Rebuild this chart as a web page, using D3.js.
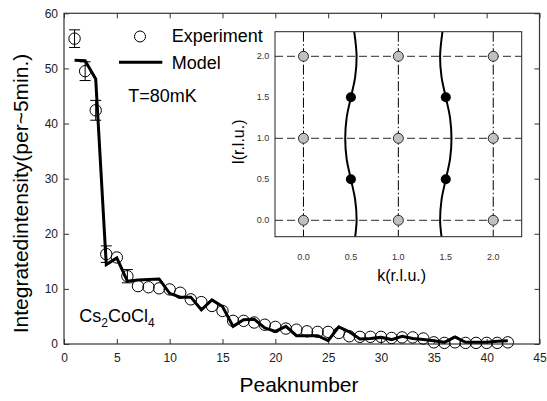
<!DOCTYPE html>
<html>
<head>
<meta charset="utf-8">
<script src="https://cdn.jsdelivr.net/npm/d3@7"></script>
<style>
  html, body { margin: 0; padding: 0; background: #fff; }
  svg { display: block; font-family: "Liberation Sans", Arial, Helvetica, sans-serif; }
</style>
</head>
<body>
<svg id="chart" width="547" height="401"></svg>
<script>
// ---------------- data ----------------
const peaks = d3.range(1, 43);
const experiment = [55.4, 49.5, 42.4, 16.3, 15.7, 12.3, 10.5, 10.3, 10.1, 9.9,
  9.3, 8.1, 7.6, 6.9, 6.0, 4.2, 4.2, 3.9, 3.5, 3.1,
  2.8, 2.6, 2.3, 2.2, 2.2, 2.0, 1.4, 1.3, 1.3, 1.3,
  1.1, 1.2, 1.2, 1.0, 0.3, 0.2, 0.3, 0.2, 0.2, 0.2,
  0.2, 0.3];
const experimentErr = [1.6, 1.7, 1.8, 1.5, 0, 1.2, 0, 0, 0, 0,
  0, 0, 0, 0, 0, 0, 0, 0, 0, 0,
  0, 0, 0, 0, 0, 0, 0, 0, 0, 0,
  0, 0, 0, 0, 0, 0, 0, 0, 0, 0,
  0, 0];
const model = [51.5, 51.4, 48.1, 14.4, 15.6, 11.4, 11.6, 11.7, 11.8, 9.2,
  8.5, 8.5, 6.2, 8.0, 6.8, 3.2, 4.4, 4.5, 2.9, 2.3,
  3.2, 1.5, 1.5, 1.5, 0.6, 3.1, 2.2, 0.9, 1.0, 1.2,
  0.8, 1.4, 1.0, 0.8, 0.6, 0.3, 1.3, 0.3, 0.3, 0.3,
  0.5, 0.6];
const xTicks = [0, 5, 10, 15, 20, 25, 30, 35, 40, 45];
const yTicks = [0, 10, 20, 30, 40, 50, 60];

// inset (reciprocal space map)
const insetKTicks = [0.0, 0.5, 1.0, 1.5, 2.0];
const insetLTicks = [0.0, 0.5, 1.0, 1.5, 2.0];
const gridK = [0, 1, 2];
const gridL = [0, 1, 2];
const grayPeaks = [[0,0],[1,0],[2,0],[0,1],[1,1],[2,1],[0,2],[1,2],[2,2]]; // [k, l]
const blackPeaks = [[0.5,0.5],[0.5,1.5],[1.5,0.5],[1.5,1.5]];              // [k, l]
const curveLeft = [[-0.2,0.545],[0,0.56],[0.25,0.545],[0.5,0.5],[0.75,0.455],[1.0,0.44],
  [1.25,0.455],[1.5,0.5],[1.75,0.545],[2.0,0.56],[2.3,0.535]];               // [l, k]
const curveRight = [[-0.2,1.455],[0,1.44],[0.25,1.455],[0.5,1.5],[0.75,1.545],[1.0,1.56],
  [1.25,1.545],[1.5,1.5],[1.75,1.455],[2.0,1.44],[2.3,1.465]];               // [l, k]

// ---------------- layout ----------------
const svg = d3.select("#chart");
const L = 64, R = 539.5, T = 13.3, B = 344;
const x = d3.scaleLinear().domain([0, 45]).range([L, R]);
const y = d3.scaleLinear().domain([0, 60]).range([B, T]);
const axisColor = "#333";

function styleAxis(g) {
  g.select(".domain").remove();
  g.selectAll(".tick line").attr("stroke", axisColor).attr("stroke-width", 1);
  g.selectAll(".tick text").attr("fill", "#222").style("font-size", "12px")
    .style("font-family", "Liberation Sans, Arial, sans-serif");
}

svg.append("g").attr("transform", `translate(0,${B})`)
  .call(d3.axisBottom(x).tickValues(xTicks).tickSize(-5).tickPadding(9.5).tickFormat(d3.format("d")))
  .call(styleAxis);
svg.append("g").attr("transform", `translate(0,${T})`)
  .call(d3.axisTop(x).tickValues(xTicks).tickSize(-5).tickFormat(""))
  .call(styleAxis);
svg.append("g").attr("transform", `translate(${L},0)`)
  .call(d3.axisLeft(y).tickValues(yTicks).tickSize(-5).tickPadding(6).tickFormat(d3.format("d")))
  .call(styleAxis);
svg.append("g").attr("transform", `translate(${R},0)`)
  .call(d3.axisRight(y).tickValues(yTicks).tickSize(-5).tickFormat(""))
  .call(styleAxis);

svg.append("rect").attr("x", L).attr("y", T).attr("width", R - L).attr("height", B - T)
  .attr("fill", "none").attr("stroke", axisColor).attr("stroke-width", 1.2);

// axis titles
svg.append("text").attr("transform", `translate(28,193.5) rotate(-90)`)
  .attr("text-anchor", "middle").style("font-size", "21px").attr("fill", "#000")
  .text("Integratedintensity(per~5min.)");
svg.append("text").attr("x", 299).attr("y", 392)
  .attr("text-anchor", "middle").style("font-size", "21px").attr("fill", "#000")
  .text("Peaknumber");

// ---------------- data marks ----------------
const expData = peaks.map((p, i) => ({ p, v: experiment[i], e: experimentErr[i] }));

const eb = svg.append("g").attr("stroke", "#000").attr("stroke-width", 1);
expData.filter(d => d.e > 0).forEach(d => {
  eb.append("line").attr("x1", x(d.p)).attr("x2", x(d.p)).attr("y1", y(d.v - d.e)).attr("y2", y(d.v + d.e));
  eb.append("line").attr("x1", x(d.p) - 5.5).attr("x2", x(d.p) + 5.5).attr("y1", y(d.v - d.e)).attr("y2", y(d.v - d.e));
  eb.append("line").attr("x1", x(d.p) - 5.5).attr("x2", x(d.p) + 5.5).attr("y1", y(d.v + d.e)).attr("y2", y(d.v + d.e));
});

svg.append("g").selectAll("circle").data(expData).join("circle")
  .attr("cx", d => x(d.p)).attr("cy", d => y(d.v)).attr("r", 5.7)
  .attr("fill", "none").attr("stroke", "#000").attr("stroke-width", 1);

const line = d3.line().x(d => x(d[0])).y(d => y(d[1]));
svg.append("path").datum(peaks.map((p, i) => [p, model[i]]))
  .attr("d", line).attr("fill", "none").attr("stroke", "#000")
  .attr("stroke-width", 3).attr("stroke-linejoin", "miter");

// ---------------- legend & annotations ----------------
svg.append("circle").attr("cx", 140).attr("cy", 36.5).attr("r", 5.5)
  .attr("fill", "none").attr("stroke", "#000").attr("stroke-width", 1);
svg.append("text").attr("x", 171.7).attr("y", 41.8).style("font-size", "18px").text("Experiment");
svg.append("line").attr("x1", 119).attr("x2", 162.3).attr("y1", 62.3).attr("y2", 62.3)
  .attr("stroke", "#000").attr("stroke-width", 3);
svg.append("text").attr("x", 171.7).attr("y", 68.5).style("font-size", "18px").text("Model");
svg.append("text").attr("x", 128.3).attr("y", 102.3).style("font-size", "18px").text("T=80mK");

const cs = svg.append("text").attr("x", 79.3).attr("y", 321.7).style("font-size", "18px");
cs.append("tspan").text("Cs");
cs.append("tspan").attr("dy", 5).style("font-size", "12px").text("2");
cs.append("tspan").attr("dy", -5).text("CoCl");
cs.append("tspan").attr("dy", 5).style("font-size", "12px").text("4");

// ---------------- inset ----------------
const iL = 275, iR = 521.7, iT = 31.7, iB = 236.7;
const kx = d3.scaleLinear().domain([-0.3, 2.3]).range([iL, iR]);
const ly = d3.scaleLinear().domain([-0.2, 2.3]).range([iB, iT]);

svg.append("rect").attr("x", iL).attr("y", iT).attr("width", iR - iL).attr("height", iB - iT)
  .attr("fill", "#fff").attr("stroke", "none");

svg.append("clipPath").attr("id", "insetClip").append("rect")
  .attr("x", iL).attr("y", iT).attr("width", iR - iL).attr("height", iB - iT);
const inset = svg.append("g").attr("clip-path", "url(#insetClip)");

inset.selectAll(".vgrid").data(gridK).join("line")
  .attr("x1", d => kx(d)).attr("x2", d => kx(d)).attr("y1", iT).attr("y2", iB)
  .attr("stroke", "#000").attr("stroke-width", 1).attr("stroke-dasharray", "10,2.5,1.5,2.5");
inset.selectAll(".hgrid").data(gridL).join("line")
  .attr("x1", iL).attr("x2", iR).attr("y1", d => ly(d)).attr("y2", d => ly(d))
  .attr("stroke", "#555").attr("stroke-width", 1.3).attr("stroke-dasharray", "8,4");

const cl = d3.line().x(d => kx(d[1])).y(d => ly(d[0])).curve(d3.curveCatmullRom);
[curveLeft, curveRight].forEach(c => {
  inset.append("path").datum(c).attr("d", cl).attr("fill", "none")
    .attr("stroke", "#000").attr("stroke-width", 2);
});

inset.selectAll(".gp").data(grayPeaks).join("circle")
  .attr("cx", d => kx(d[0])).attr("cy", d => ly(d[1])).attr("r", 5)
  .attr("fill", "#c0c0c0").attr("stroke", "#000").attr("stroke-width", 0.8);
inset.selectAll(".bp").data(blackPeaks).join("circle")
  .attr("cx", d => kx(d[0])).attr("cy", d => ly(d[1])).attr("r", 5)
  .attr("fill", "#000");

svg.append("rect").attr("x", iL).attr("y", iT).attr("width", iR - iL).attr("height", iB - iT)
  .attr("fill", "none").attr("stroke", "#222").attr("stroke-width", 1);

svg.append("g").selectAll("text").data(insetKTicks).join("text")
  .attr("x", d => kx(d)).attr("y", 259.8).attr("text-anchor", "middle")
  .style("font-size", "9px").attr("fill", "#333").text(d => d.toFixed(1));
svg.append("g").selectAll("text").data(insetLTicks).join("text")
  .attr("x", 269.3).attr("y", d => ly(d)).attr("dy", "0.35em").attr("text-anchor", "end")
  .style("font-size", "9px").attr("fill", "#333").text(d => d.toFixed(1));

svg.append("text").attr("x", 401.7).attr("y", 280.5).attr("text-anchor", "middle")
  .style("font-size", "16px").text("k(r.l.u.)");
svg.append("text").attr("transform", "translate(243.5,141.7) rotate(-90)")
  .attr("text-anchor", "middle").style("font-size", "16px").text("l(r.l.u.)");
</script>
</body>
</html>
